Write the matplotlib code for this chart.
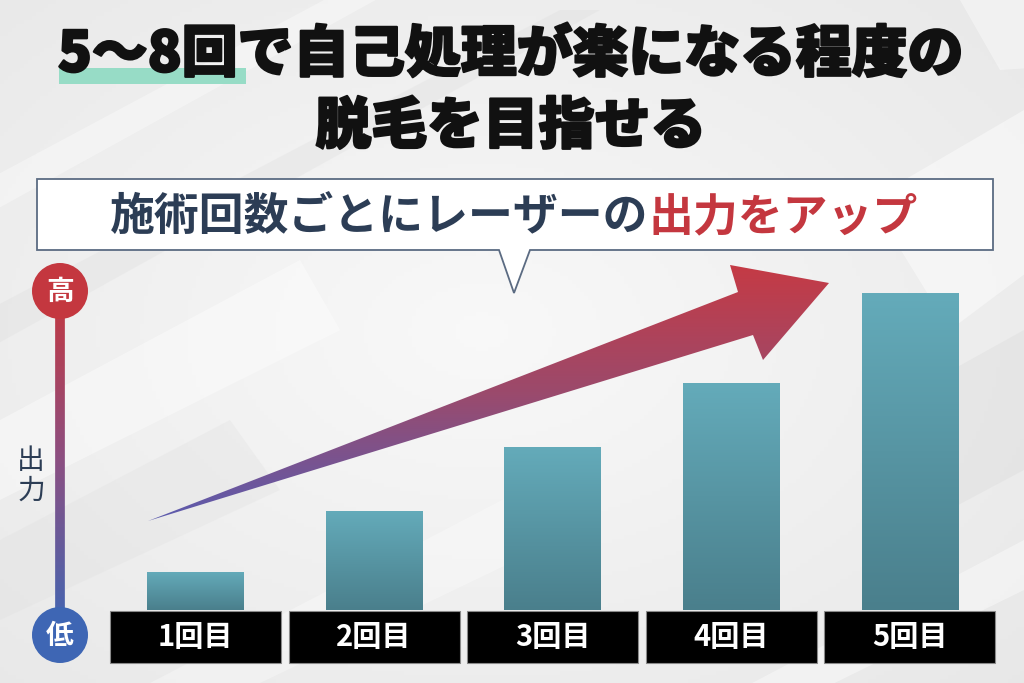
import numpy as np
import matplotlib.pyplot as plt
import matplotlib.patheffects as pe
from matplotlib.patches import Polygon, Circle, Rectangle
from matplotlib.collections import LineCollection
from matplotlib.colors import LinearSegmentedColormap

plt.rcParams['font.family'] = ['Noto Sans CJK JP', 'DejaVu Sans']

# chart content
title_lines = ['5〜8回で自己処理が楽になる程度の', '脱毛を目指せる']
callout_dark = '施術回数ごとにレーザーの'
callout_red = '出力をアップ'
sessions = ['1回目', '2回目', '3回目', '4回目', '5回目']
power = [12, 31, 51, 71, 99]          # relative output
axis_label = ['出', '力']
high_label, low_label = '高', '低'

W, H = 1024, 683
navy = '#2c3d55'
red = '#c4373f'
blue = '#3e66b4'

fig = plt.figure(figsize=(W / 100, H / 100), dpi=100)

# ---- background / decoration layer (pixel coordinates) ----
bg = fig.add_axes([0, 0, 1, 1])
bg.set_xlim(0, W)
bg.set_ylim(H, 0)
bg.axis('off')

yy, xx = np.mgrid[0:H:4, 0:W:4]
d = np.hypot((xx - 480) / W, (yy - 330) / H)
shade = 0.975 - 0.09 * d
bg.imshow(np.dstack([shade, shade, shade]), extent=[0, W, H, 0], aspect='auto', zorder=0)

# soft diagonal stripes
stripes = [
    ([(-50, 200), (380, -30), (430, -30), (-50, 235)], 'white', 0.35),
    ([(-50, 330), (560, 10), (600, 10), (-50, 370)], '#d8d8d8', 0.25),
    ([(0, 420), (300, 260), (340, 330), (0, 500)], 'white', 0.4),
    ([(0, 540), (230, 420), (280, 490), (0, 620)], '#dcdcdc', 0.25),
    ([(1150, 180), (1024, 110), (870, 200), (950, 330)], 'white', 0.45),
    ([(1150, 60), (1024, 0), (960, 0), (1000, 70)], 'white', 0.4),
    ([(1024, 330), (880, 410), (930, 520), (1024, 470)], '#d6d6d6', 0.3),
    ([(1024, 540), (720, 700), (800, 700), (1024, 590)], 'white', 0.4),
    ([(150, 683), (560, 470), (600, 520), (260, 683)], 'white', 0.3),
]
for pts, col, a in stripes:
    bg.add_patch(Polygon(pts, closed=True, facecolor=col, edgecolor='none', alpha=a, zorder=1))

# title with green highlight under "5〜8回"
heavy = [pe.withStroke(linewidth=1.6, foreground='#111111')]
bg.add_patch(Rectangle((59, 68), 187, 16, facecolor='#97dcc6', edgecolor='none', zorder=2))
bg.text(511, 55, title_lines[0], ha='center', va='center', fontsize=40.2,
        fontweight='black', color='#111111', zorder=3, path_effects=heavy)
bg.text(511, 127, title_lines[1], ha='center', va='center', fontsize=40.2,
        fontweight='black', color='#111111', zorder=3, path_effects=heavy)

# callout box with tail
callout = [(37, 179), (993, 179), (993, 250), (530, 250), (514, 293), (499, 250), (37, 250)]
bg.add_patch(Polygon(callout, closed=True, facecolor='white', edgecolor='#5b6b82',
                     lw=1.3, zorder=4))
bg.text(648, 217, callout_dark, ha='right', va='center', fontsize=32.3,
        fontweight='bold', color=navy, zorder=5)
bg.text(648, 217, callout_red, ha='left', va='center', fontsize=32.3,
        fontweight='bold', color=red, zorder=5)

# vertical "output" scale on the left
ys = np.linspace(291, 634, 120)
segs = [[(60, ys[i]), (60, ys[i + 1])] for i in range(len(ys) - 1)]
scale_cmap = LinearSegmentedColormap.from_list('scale', [red, '#8a4f82', blue])
lc = LineCollection(segs, colors=scale_cmap(np.linspace(0, 1, len(segs))), linewidths=7,
                    zorder=3)
bg.add_collection(lc)
bg.add_patch(Circle((60, 291), 28, facecolor=red, edgecolor='none', zorder=4))
bg.add_patch(Circle((60, 635), 28, facecolor=blue, edgecolor='none', zorder=4))
bg.text(60, 292, high_label, ha='center', va='center', fontsize=20, fontweight='bold',
        color='white', zorder=5)
bg.text(60, 636, low_label, ha='center', va='center', fontsize=20, fontweight='bold',
        color='white', zorder=5)
bg.text(31, 461, axis_label[0], ha='center', va='center', fontsize=20, color=navy, zorder=5)
bg.text(31, 491, axis_label[1], ha='center', va='center', fontsize=20, color=navy, zorder=5)

# big gradient arrow
arrow_pts = [(148, 521), (738, 292), (730, 265), (829, 283), (763, 360), (753, 335)]
arrow = Polygon(arrow_pts, closed=True, facecolor='none', edgecolor='none', zorder=3)
bg.add_patch(arrow)
arrow_cmap = LinearSegmentedColormap.from_list('arrow', ['#c63a44', '#9b4a6c', '#5a5cb0'])
grad = np.linspace(0, 1, 256).reshape(-1, 1)
im = bg.imshow(grad, cmap=arrow_cmap, extent=[140, 835, 523, 262], aspect='auto', zorder=3)
im.set_clip_path(arrow)
bg.set_xlim(0, W)
bg.set_ylim(H, 0)

# ---- bar chart layer (data coordinates) ----
spacing = 178.6
c0 = 195.5
px_per_unit = 3.2
base_px = 610
ax = fig.add_axes([(c0 - spacing / 2) / W, 0, 5 * spacing / W, 1])
ax.patch.set_alpha(0)
ax.axis('off')
ylo = -(H - base_px) / px_per_unit
yhi = base_px / px_per_unit

x = np.arange(len(sessions))
bars = ax.bar(x, power, width=0.54, color='#579aa8', edgecolor='none', zorder=2)
bar_cmap = LinearSegmentedColormap.from_list('bar', ['#4a7f8c', '#64abba'])
for b in bars:
    bx, bw, bh = b.get_x(), b.get_width(), b.get_height()
    g = ax.imshow(np.linspace(1, 0, 128).reshape(-1, 1), cmap=bar_cmap,
                  extent=[bx, bx + bw, 0, bh], aspect='auto', zorder=3)
    g.set_clip_path(b)

box_top = -1 / px_per_unit
box_h = 52 / px_per_unit
ax.bar(x, -box_h, bottom=box_top, width=0.957, color='black', edgecolor='#8a8a8a',
       linewidth=0.8, zorder=3)
for xi, lab in zip(x, sessions):
    ax.text(xi, box_top - box_h / 2, lab, ha='center', va='center', fontsize=21,
            fontweight='bold', color='white', zorder=4)

ax.set_xlim(-0.5, len(sessions) - 0.5)
ax.set_ylim(ylo, yhi)

fig.savefig('out.png', dpi=100)
